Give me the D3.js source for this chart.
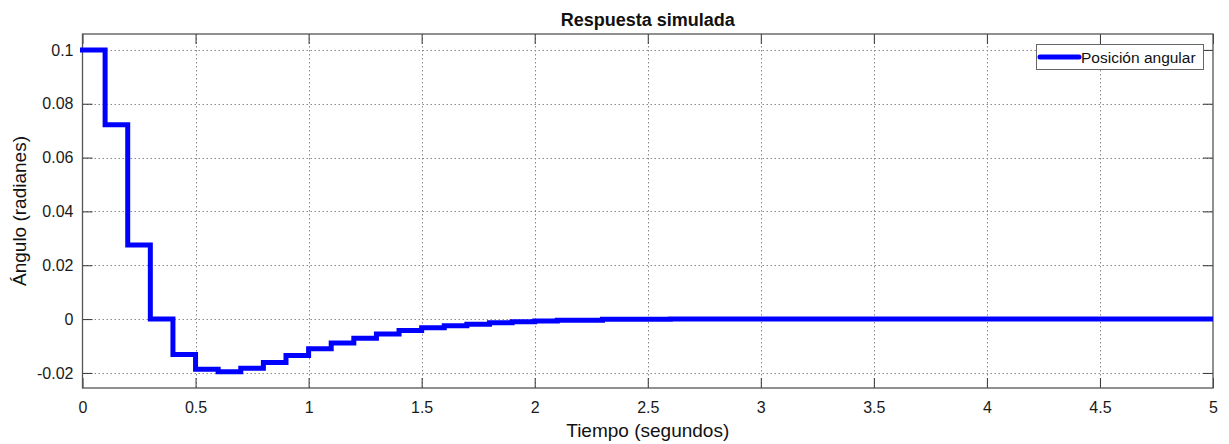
<!DOCTYPE html>
<html>
<head>
<meta charset="utf-8">
<script src="https://cdn.jsdelivr.net/npm/d3@7"></script>
<style>
  html, body { margin: 0; padding: 0; background: #fff; }
  svg { display: block; font-family: "Liberation Sans", Arial, sans-serif; }
</style>
</head>
<body>
<svg id="chart" width="1229" height="444"></svg>
<script>
// Simulated angular position (sampled, zero-order hold)
const sampleTimes = [0, 0.1, 0.2, 0.3, 0.4, 0.5, 0.6, 0.7, 0.8, 0.9,
                     1.0, 1.1, 1.2, 1.3, 1.4, 1.5, 1.6, 1.7, 1.8, 1.9,
                     2.0, 2.1, 2.2, 2.3, 2.4, 2.5, 2.6, 5.0];
const angleValues = [0.1, 0.0722, 0.0275, 0.0, -0.0132, -0.0186, -0.0196, -0.0183, -0.0161, -0.0135,
                     -0.0110, -0.0089, -0.0071, -0.0055, -0.0042, -0.0032, -0.0025, -0.0019, -0.0014, -0.0010,
                     -0.0007, -0.0004, -0.0004, -0.0001, -0.0001, -0.0001, 0.0, 0.0];
const xTicks = [0, 0.5, 1, 1.5, 2, 2.5, 3, 3.5, 4, 4.5, 5];
const yTicks = [-0.02, 0, 0.02, 0.04, 0.06, 0.08, 0.1];
const xTickLabels = ["0", "0.5", "1", "1.5", "2", "2.5", "3", "3.5", "4", "4.5", "5"];
const yTickLabels = ["-0.02", "0", "0.02", "0.04", "0.06", "0.08", "0.1"];

const titleText = "Respuesta simulada";
const xLabelText = "Tiempo (segundos)";
const yLabelText = "Ángulo (radianes)";
const seriesName = "Posición angular";

const margin = { left: 82.5, right: 16, top: 34, bottom: 56 };
const W = 1229, H = 444;
const svg = d3.select("#chart");

const x = d3.scaleLinear().domain([0, 5]).range([margin.left, W - margin.right]);
const y = d3.scaleLinear().domain([-0.0256, 0.1059]).range([H - margin.bottom, margin.top]);

const x0 = x.range()[0], x1 = x.range()[1];
const y0 = y.range()[0], y1 = y.range()[1];

// grid
const grid = svg.append("g").attr("stroke", "#8a8a8a").attr("stroke-width", 1)
  .attr("stroke-dasharray", "1.5,2.5");
grid.selectAll("line.gx").data(xTicks.slice(1, -1)).join("line")
  .attr("x1", d => Math.round(x(d)) + 0.5).attr("x2", d => Math.round(x(d)) + 0.5)
  .attr("y1", y1).attr("y2", y0);
grid.selectAll("line.gy").data(yTicks).join("line")
  .attr("x1", x0).attr("x2", x1)
  .attr("y1", d => Math.round(y(d)) + 0.5).attr("y2", d => Math.round(y(d)) + 0.5);

// axes with inward ticks
const tick = 10;
const axB = svg.append("g").attr("transform", `translate(0,${y0})`)
  .call(d3.axisBottom(x).tickValues(xTicks).tickFormat((d, i) => xTickLabels[i])
    .tickSizeInner(-tick).tickSizeOuter(0).tickPadding(14));
const axT = svg.append("g").attr("transform", `translate(0,${y1})`)
  .call(d3.axisTop(x).tickValues(xTicks).tickFormat("").tickSizeInner(-tick).tickSizeOuter(0));
const axL = svg.append("g").attr("transform", `translate(${x0},0)`)
  .call(d3.axisLeft(y).tickValues(yTicks).tickFormat((d, i) => yTickLabels[i])
    .tickSizeInner(-tick).tickSizeOuter(0).tickPadding(9));
const axR = svg.append("g").attr("transform", `translate(${x1},0)`)
  .call(d3.axisRight(y).tickValues(yTicks).tickFormat("").tickSizeInner(-tick).tickSizeOuter(0));

[axB, axT, axL, axR].forEach(g => {
  g.select(".domain").remove();
  g.selectAll(".tick line").attr("stroke", "#333");
  g.selectAll("text").attr("fill", "#1a1a1a").attr("font-size", 16)
    .attr("font-family", "'Liberation Sans', Arial, sans-serif");
});

// frame
svg.append("rect").attr("x", x0).attr("y", y1).attr("width", x1 - x0).attr("height", y0 - y1)
  .attr("fill", "none").attr("stroke", "#555").attr("stroke-width", 1.3);

// series
const pts = sampleTimes.map((t, i) => [t, angleValues[i]]);
const line = d3.line().x(d => x(d[0])).y(d => y(d[1])).curve(d3.curveStepAfter);
svg.append("defs").append("clipPath").attr("id", "plotClip")
  .append("rect").attr("x", x0 - 3).attr("y", y1).attr("width", x1 - x0 + 3).attr("height", y0 - y1);
svg.append("path").datum(pts).attr("d", line)
  .attr("clip-path", "url(#plotClip)")
  .attr("fill", "none").attr("stroke", "#0000ff").attr("stroke-width", 5)
  .attr("stroke-linejoin", "miter").attr("stroke-linecap", "square");

// title and labels
svg.append("text").attr("x", (x0 + x1) / 2).attr("y", 26).attr("text-anchor", "middle")
  .attr("font-size", 18).attr("font-weight", "bold").attr("fill", "#111").text(titleText);
svg.append("text").attr("x", (x0 + x1) / 2).attr("y", 437).attr("text-anchor", "middle")
  .attr("font-size", 19).attr("fill", "#111").text(xLabelText);
svg.append("text").attr("transform", `translate(26,${(y0 + y1) / 2}) rotate(-90)`)
  .attr("text-anchor", "middle").attr("font-size", 19).attr("fill", "#111").text(yLabelText);

// legend
const lg = svg.append("g");
lg.append("rect").attr("x", 1036.5).attr("y", 44.5).attr("width", 167).attr("height", 25)
  .attr("fill", "#fff").attr("stroke", "#666").attr("stroke-width", 1);
lg.append("line").attr("x1", 1040).attr("x2", 1079).attr("y1", 57).attr("y2", 57)
  .attr("stroke", "#0000ff").attr("stroke-width", 5).attr("stroke-linecap", "round");
lg.append("text").attr("x", 1081).attr("y", 63).attr("font-size", 15.5).attr("fill", "#111")
  .text(seriesName);
</script>
</body>
</html>
